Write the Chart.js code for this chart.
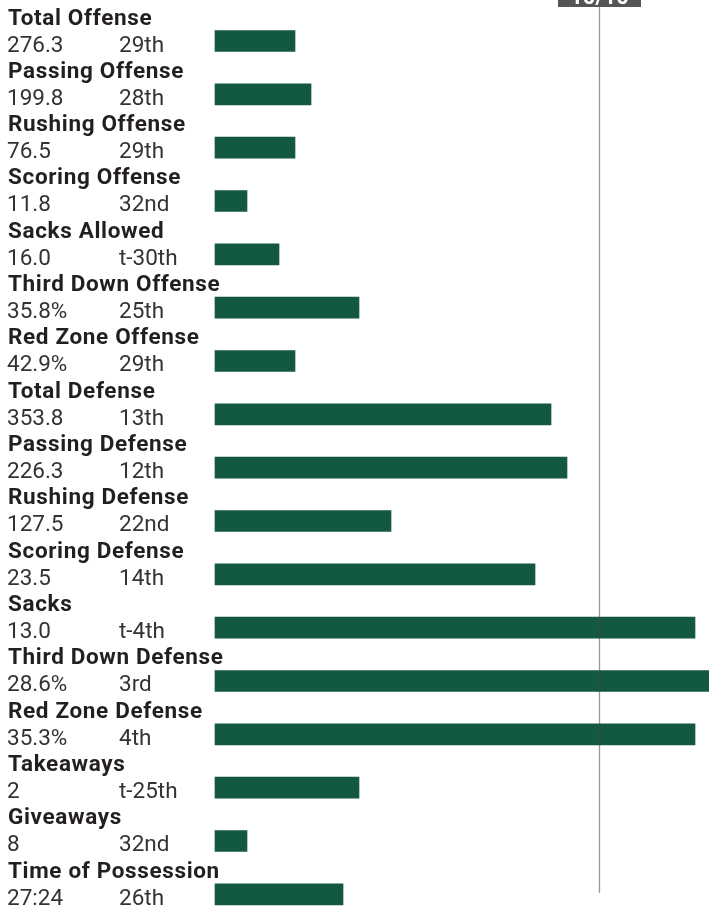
<!DOCTYPE html>
<html>
<head>
<meta charset="utf-8">
<script src="https://cdn.jsdelivr.net/npm/chart.js@4"></script>
<style>
html,body{margin:0;padding:0;background:#fff;}
canvas{display:block;}
</style>
</head>
<body>
<canvas id="c" width="709" height="909" style="width:709px;height:909px"></canvas>
<script>
const categories = ['Total Offense','Passing Offense','Rushing Offense','Scoring Offense','Sacks Allowed','Third Down Offense','Red Zone Offense','Total Defense','Passing Defense','Rushing Defense','Scoring Defense','Sacks','Third Down Defense','Red Zone Defense','Takeaways','Giveaways','Time of Possession'];
const statValues = ['276.3','199.8','76.5','11.8','16.0','35.8%','42.9%','353.8','226.3','127.5','23.5','13.0','28.6%','35.3%','2','8','27:24'];
const ranks = ['29th','28th','29th','32nd','t-30th','25th','29th','13th','12th','22nd','14th','t-4th','3rd','4th','t-25th','32nd','26th'];
const barValues = [5,6,5,2,4,9,5,21,22,11,20,30,31,30,9,2,8];
const referenceValue = 24;
const referenceLabel = '10/10';

const FONT = 'Roboto';

const labelPlugin = {
  id: 'labels',
  afterDatasetsDraw(chart) {
    const ctx = chart.ctx;
    const xs = chart.scales.x, ys = chart.scales.y;
    // reference line
    const lx = Math.round(xs.getPixelForValue(referenceValue)) + 0.5;
    ctx.save();
    ctx.strokeStyle = 'rgba(70,70,70,0.55)';
    ctx.lineWidth = 1.3;
    ctx.beginPath();
    ctx.moveTo(lx, 0);
    ctx.lineTo(lx, 893);
    ctx.stroke();
    // box
    ctx.fillStyle = '#555555';
    ctx.fillRect(lx - 41.5, 0, 83, 7);
    ctx.fillStyle = '#ffffff';
    ctx.font = 'bold 22px ' + FONT;
    ctx.textAlign = 'center';
    ctx.textBaseline = 'alphabetic';
    ctx.fillText(referenceLabel, lx, 4);
    // labels
    ctx.textAlign = 'left';
    categories.forEach((cat, i) => {
      const cy = ys.getPixelForValue(i);
      ctx.fillStyle = '#231f20';
      ctx.font = 'bold 22.5px ' + FONT;
      ctx.letterSpacing = '0.65px';
      ctx.fillText(cat, 8, cy - 16.5);
      ctx.letterSpacing = '0px';
      ctx.fillStyle = '#333333';
      ctx.font = '22.5px ' + FONT;
      ctx.fillText(statValues[i], 7, cy + 10.5);
      ctx.fillText(ranks[i], 119, cy + 10.5);
    });
    ctx.restore();
  }
};

new Chart(document.getElementById('c'), {
  type: 'bar',
  data: {
    labels: categories,
    datasets: [{
      data: barValues,
      backgroundColor: '#135840',
      borderWidth: 0,
      barThickness: 21,
      clip: false
    }]
  },
  options: {
    indexAxis: 'y',
    responsive: false,
    devicePixelRatio: 1,
    animation: false,
    layout: { padding: { left: 215, right: 0, top: 41, bottom: 14.67 } },
    plugins: { legend: { display: false }, tooltip: { enabled: false } },
    scales: {
      x: { display: false, min: 0, max: 30.875 },
      y: { display: false, offset: false }
    }
  },
  plugins: [labelPlugin]
});
</script>
</body>
</html>
